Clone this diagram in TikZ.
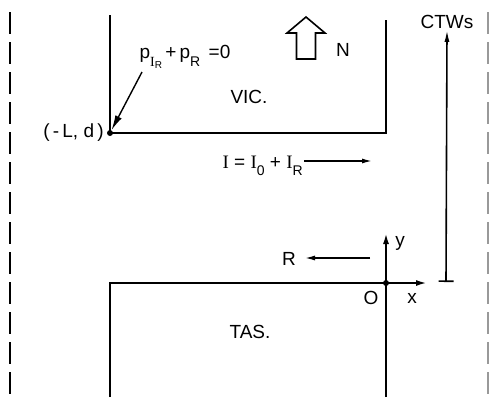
\documentclass[tikz,border=0pt]{standalone}
\usepackage{fontspec}
\setmainfont{Liberation Sans}
\newfontfamily\serifI{Liberation Serif}
\usetikzlibrary{arrows.meta,positioning}
\newcommand{\lo}[1]{\raisebox{-0.42em}{\fontsize{14}{14}\selectfont #1}}
\newcommand{\llo}[1]{\raisebox{-0.1em}{\fontsize{10}{10}\selectfont #1}}
\newcommand{\Ib}{{\serifI I}}
\tikzset{
  coast/.style={line width=2pt},
  border/.style={line width=2pt, dash pattern=on 22pt off 8pt},
  lbl/.style={font=\fontsize{19}{22}\selectfont, inner sep=1pt},
  flow/.style={-{Latex[length=10pt,width=5pt]}, line width=1.4pt},
  dot/.style={circle, fill=black, inner sep=0pt, minimum size=6pt},
}
\begin{document}
\begin{tikzpicture}[x=1pt,y=-1pt]
\useasboundingbox (0,0) rectangle (489,397);
% edges of the strait
\draw[border] (10,12) -- (10,397);
\draw[border, draw=black!40, line width=1.2pt] (488,12) -- (488,397);
% Victorian coast
\coordinate (vicW) at (110,15);
\node[dot] (corner) at (110,133) {};
\coordinate (vicE) at (386,133);
\coordinate (vicN) at (386,20);
\draw[coast] (vicW) -- (corner.center) -- (vicE) -- (vicN);
\node[lbl] (vic) at (249,97) {VIC.};
\node[lbl, left=2pt of corner] (cornerLbl) {(\,-\,L,\;d\,)};
\node[lbl] (bcLbl) at (185,57) {p\lo{\Ib\llo{R}}\,+\,p\lo{R}\;\,=0};
\coordinate (bcTail) at (142,72);
\draw[-{Latex[length=15pt,width=7pt]}, line width=1.4pt] (bcTail) -- (corner);
% north arrow
\draw[line width=1.6pt, line join=miter]
  (296.5,59) -- (296.5,33) -- (287,33) -- (306,17) -- (325,33)
  -- (315.5,33) -- (315.5,59) -- cycle;
\node[lbl] (north) at (343,50) {N};
% current
\node[lbl, anchor=base east] (cur) at (304,168)
  {\Ib\ = \Ib\lo{0} + \Ib\lo{R}};
\coordinate (curTip) at (372,161);
\draw[flow] (cur.east |- curTip) -- (curTip);
% Tasmanian coast and axes
\node[dot] (origin) at (386,283) {};
\coordinate (tasW) at (110,283);
\coordinate (tasS) at (110,397);
\draw[coast] (tasS) -- (tasW) -- (origin.center);
\node[lbl] (tas) at (250,332) {TAS.};
\coordinate (yS) at (386,397);
\coordinate (yN) at (386,233);
\coordinate (xE) at (427,283);
\draw[coast, -{Latex[length=11pt,width=6pt]}] (yS) -- (yN);
\draw[coast, -{Latex[length=11pt,width=6pt]}] (origin.center) -- (xE);
\node[lbl] (yLbl) at (400,243) {y};
\node[lbl] (xLbl) at (412,298) {x};
\node[lbl] (oLbl) at (371,298) {O};
% reflected wave
\node[lbl] (rLbl) at (289,259) {R};
\coordinate (rTail) at (370,258);
\coordinate (rTip) at (305,258);
\draw[flow] (rTail) -- (rTip);
% coastal trapped waves
\node[lbl] (ctws) at (447,22) {CTWs};
\coordinate (ctwsBase) at (446,282);
\draw[line width=1.6pt, {Bar[width=15pt]}-{Latex[length=12pt,width=5pt]}]
  (ctwsBase) -- (ctws.south);
\end{tikzpicture}
\end{document}
